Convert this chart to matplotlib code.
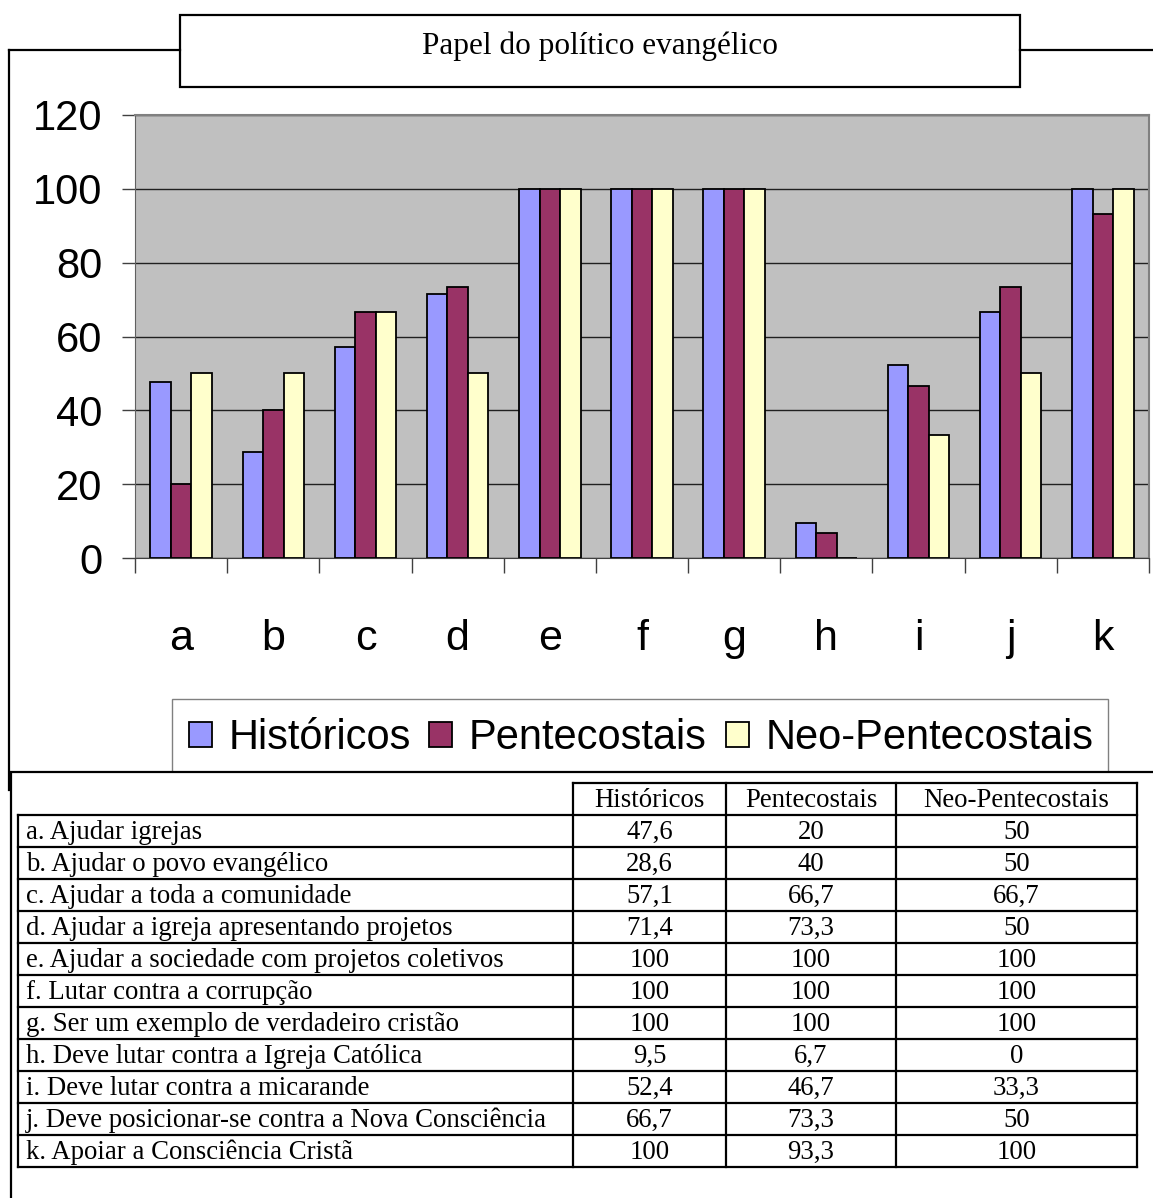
import numpy as np
import matplotlib
matplotlib.use("Agg")
import matplotlib.pyplot as plt
from matplotlib.patches import Rectangle

W, H = 1153, 1198

# categorias e percentuais por grupo
categorias = ["a", "b", "c", "d", "e", "f", "g", "h", "i", "j", "k"]
descricoes = [
    "a. Ajudar igrejas",
    "b. Ajudar o povo evangélico",
    "c. Ajudar a toda a comunidade",
    "d. Ajudar a igreja apresentando projetos",
    "e. Ajudar a sociedade com projetos coletivos",
    "f. Lutar contra a corrupção",
    "g. Ser um exemplo de verdadeiro cristão",
    "h. Deve lutar contra a Igreja Católica",
    "i. Deve lutar contra a micarande",
    "j. Deve posicionar-se contra a Nova Consciência",
    "k. Apoiar a Consciência Cristã",
]
grupos = ["Históricos", "Pentecostais", "Neo-Pentecostais"]
historicos = [47.6, 28.6, 57.1, 71.4, 100, 100, 100, 9.5, 52.4, 66.7, 100]
pentecostais = [20, 40, 66.7, 73.3, 100, 100, 100, 6.7, 46.7, 73.3, 93.3]
neo_pentecostais = [50, 50, 66.7, 50, 100, 100, 100, 0, 33.3, 50, 100]
cores = ["#9999FF", "#993366", "#FFFFCC"]
titulo = "Papel do político evangélico"

SANS = ["Liberation Sans", "DejaVu Sans"]
SERIF = ["Liberation Serif", "DejaVu Serif"]


def fx(x):
    return x / W


def fy(y):
    return 1 - y / H


fig = plt.figure(figsize=(W / 100, H / 100), dpi=100)

# camada de "página" em coordenadas de pixel para molduras e tabela
pg = fig.add_axes([0, 0, 1, 1])
pg.set_xlim(0, W)
pg.set_ylim(H, 0)
pg.axis("off")

# --- gráfico de barras ---
ax = fig.add_axes([fx(135), fy(558), fx(1149 - 135), (558 - 115) / H])
ax.set_facecolor("#C0C0C0")
x = np.arange(len(categorias))
w = 1 / 4.5
series = [historicos, pentecostais, neo_pentecostais]
barras = []
for i, (vals, cor) in enumerate(zip(series, cores)):
    b = ax.bar(x + (i - 1) * w, vals, width=w, color=cor, edgecolor="black",
               linewidth=1.3, zorder=3)
    barras.append(b)

ax.set_xlim(-0.5, len(categorias) - 0.5)
ax.set_ylim(0, 120)
ax.set_yticks(np.arange(0, 121, 20))
ax.yaxis.grid(True, color="#202020", linewidth=1)
ax.set_axisbelow(True)

ax.set_xticks(x)
ax.set_xticklabels(categorias, fontsize=31, family=SANS)
ax.set_xticks(np.arange(-0.5, len(categorias)), minor=True)
ax.tick_params(axis="x", which="major", length=0, pad=44)
ax.tick_params(axis="x", which="minor", length=11, width=1, color="#404040",
               direction="out")
ax.tick_params(axis="y", length=9.5, width=1, color="#404040", pad=14,
               labelsize=30)
for t in ax.get_yticklabels():
    t.set_family(SANS)

for s in ["top", "right"]:
    ax.spines[s].set_color("#808080")
    ax.spines[s].set_linewidth(1.5)
ax.spines["left"].set_color("#606060")
ax.spines["bottom"].set_color("#404040")

# --- moldura e título ---
lk = dict(color="black", linewidth=1.6, solid_capstyle="projecting")
pg.plot([9, 180], [50, 50], **lk)
pg.plot([1020, W], [50, 50], **lk)
pg.plot([9, 9], [50, 790], **lk)
pg.add_patch(Rectangle((180, 15), 840, 72, facecolor="white",
                       edgecolor="black", linewidth=1.6))
pg.text(600, 46, titulo, ha="center", va="center", fontsize=22.5,
        family=SERIF)

# --- legenda ---
pg.add_patch(Rectangle((172, 699), 936, 76, facecolor="white",
                       edgecolor="#808080", linewidth=1))
fig.legend(barras, grupos, loc="center", bbox_to_anchor=(fx(641), fy(738)),
           ncol=3, frameon=False, prop={"family": SANS, "size": 30},
           handlelength=0.55, handleheight=0.55, handletextpad=0.4,
           columnspacing=0.45, borderpad=0, borderaxespad=0)

# --- tabela ---
pg.add_patch(Rectangle((11, 772), W, H, facecolor="white", edgecolor="black",
                       linewidth=1.6, zorder=4))
cols = [18, 573, 726, 896, 1137]
top, hdr, rh = 783, 815, 32
bot = hdr + rh * len(categorias)
tk = dict(color="black", linewidth=1.6, zorder=5, solid_capstyle="projecting")
pg.plot([cols[1], cols[-1]], [top, top], **tk)
for c in cols[1:]:
    pg.plot([c, c], [top, bot], **tk)
pg.plot([cols[0], cols[0]], [hdr, bot], **tk)
for r in range(len(categorias) + 1):
    yy = hdr + r * rh
    pg.plot([cols[0], cols[-1]], [yy, yy], **tk)

fs = 19.3
for j, g in enumerate(grupos):
    pg.text((cols[j + 1] + cols[j + 2]) / 2, (top + hdr) / 2 + 1.5, g,
            ha="center", va="center", fontsize=fs, family=SERIF, zorder=6)


def fmt(v):
    return f"{v:g}".replace(".", ",")


for r, desc in enumerate(descricoes):
    yc = hdr + r * rh + rh / 2 + 1.5
    pg.text(26, yc, desc, ha="left", va="center", fontsize=fs, family=SERIF,
            zorder=6)
    for j, vals in enumerate(series):
        pg.text((cols[j + 1] + cols[j + 2]) / 2, yc, fmt(vals[r]),
                ha="center", va="center", fontsize=fs, family=SERIF, zorder=6)

fig.savefig("out.png", dpi=100)
